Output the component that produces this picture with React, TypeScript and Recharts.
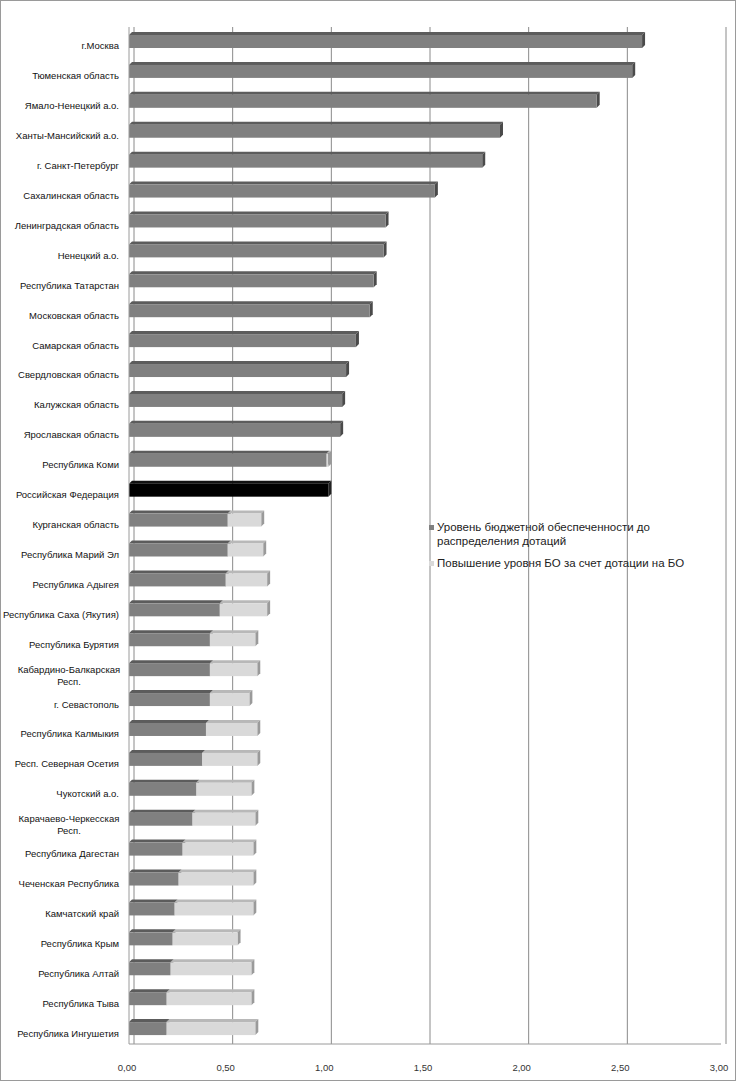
import { BarChart, Bar, XAxis, YAxis, CartesianGrid } from 'recharts'

// regions, top to bottom
const regions = [
  'г.Москва',
  'Тюменская область',
  'Ямало-Ненецкий а.о.',
  'Ханты-Мансийский а.о.',
  'г. Санкт-Петербург',
  'Сахалинская область',
  'Ленинградская область',
  'Ненецкий а.о.',
  'Республика Татарстан',
  'Московская область',
  'Самарская область',
  'Свердловская область',
  'Калужская область',
  'Ярославская область',
  'Республика Коми',
  'Российская Федерация',
  'Курганская область',
  'Республика Марий Эл',
  'Республика Адыгея',
  'Республика Саха (Якутия)',
  'Республика Бурятия',
  'Кабардино-Балкарская\nРесп.',
  'г. Севастополь',
  'Республика Калмыкия',
  'Респ. Северная Осетия',
  'Чукотский а.о.',
  'Карачаево-Черкесская\nРесп.',
  'Республика Дагестан',
  'Чеченская Республика',
  'Камчатский край',
  'Республика Крым',
  'Республика Алтай',
  'Республика Тыва',
  'Республика Ингушетия',
]

// level before grants
const baseLevel = [
  2.6, 2.55, 2.37, 1.88, 1.79, 1.55, 1.3, 1.29, 1.24, 1.22, 1.15, 1.1, 1.08, 1.07, 1.0, 1.01,
  0.5, 0.5, 0.49, 0.46, 0.41, 0.41, 0.41, 0.39, 0.37, 0.34, 0.32, 0.27, 0.25, 0.23, 0.22, 0.21,
  0.19, 0.19,
]

// increase from the grant
const grantIncrease = [
  0, 0, 0, 0, 0, 0, 0, 0, 0, 0, 0, 0, 0, 0, 0.01, 0,
  0.17, 0.18, 0.21, 0.24, 0.23, 0.24, 0.2, 0.26, 0.28, 0.28, 0.32, 0.36, 0.38, 0.4, 0.33, 0.41,
  0.43, 0.45,
]

const seriesNames = [
  'Уровень бюджетной обеспеченности до распределения дотаций',
  'Повышение уровня БО за счет дотации на БО',
]

const xTicks = [0, 0.5, 1, 1.5, 2, 2.5, 3]
const X_MAX = 3

const HIGHLIGHT = 'Российская Федерация'

// back wall of the 3d plot sits a few px right of the bars
const WALL_SHIFT = 5

const data = regions.map((name, i) => ({
  name,
  base: baseLevel[i],
  grant: grantIncrease[i],
}))

const palette: Record<string, { face: string; top: string; side: string }> = {
  dark: { face: '#808080', top: '#5c5c5c', side: '#4a4a4a' },
  light: { face: '#d9d9d9', top: '#b8b8b8', side: '#9a9a9a' },
  black: { face: '#000000', top: '#111111', side: '#222222' },
}

function wallLines(args: any): number[] {
  const o = args?.offset
  if (!o || typeof o.left !== 'number' || typeof o.width !== 'number') return []
  return xTicks.map((t) => o.left + (o.width * t) / X_MAX + WALL_SHIFT)
}

function makeBar3D(kind: 'dark' | 'light') {
  return (props: any) => {
    const { x, y, width, height, payload } = props
    if (!width || width <= 0) return <g />
    const c = kind === 'dark' && payload?.name === HIGHLIGHT ? palette.black : palette[kind]
    const d = 3
    return (
      <g>
        <path
          d={`M${x},${y} L${x + d},${y - d} L${x + width + d},${y - d} L${x + width},${y} Z`}
          fill={c.top}
        />
        <path
          d={`M${x + width},${y} L${x + width + d},${y - d} L${x + width + d},${y + height - d} L${x + width},${y + height} Z`}
          fill={c.side}
        />
        <rect x={x} y={y} width={width} height={height} fill={c.face} />
      </g>
    )
  }
}

function RegionTick(props: any) {
  const { x, y, payload } = props
  const lines = String(payload.value).split('\n')
  if (lines.length > 1) {
    return (
      <text
        x={x - 50}
        y={y + 5}
        textAnchor="middle"
        fontSize={9.5}
        fill="#111"
        fontFamily="'Liberation Sans', Arial, sans-serif"
      >
        <tspan x={x - 50} dy={-6} dominantBaseline="central">{lines[0]}</tspan>
        <tspan x={x - 50} dy={12} dominantBaseline="central">{lines[1]}</tspan>
      </text>
    )
  }
  return (
    <text
      x={x}
      y={y + 4}
      textAnchor="end"
      dominantBaseline="central"
      fontSize={9.5}
      fill="#111"
      fontFamily="'Liberation Sans', Arial, sans-serif"
    >
      {payload.value}
    </text>
  )
}

function ValueTick(props: any) {
  const { x, y, payload } = props
  return (
    <text
      x={x - 2}
      y={y + 15}
      textAnchor="middle"
      dominantBaseline="central"
      fontSize={9.5}
      fill="#333"
      fontFamily="'Liberation Sans', Arial, sans-serif"
    >
      {Number(payload.value).toFixed(2).replace('.', ',')}
    </text>
  )
}

export default function App() {
  return (
    <div
      style={{
        position: 'absolute',
        left: 0,
        top: 0,
        width: 736,
        height: 1081,
        boxSizing: 'border-box',
        border: '1px solid #9a9a9a',
        background: '#fff',
      }}
    >
      <BarChart
        width={734}
        height={1079}
        data={data}
        layout="vertical"
        margin={{ top: 26, right: 14, bottom: 6, left: 0 }}
        barSize={13}
      >
        <CartesianGrid
          vertical
          horizontal={false}
          stroke="#8a8a8a"
          verticalCoordinatesGenerator={wallLines}
        />
        <XAxis
          type="number"
          domain={[0, X_MAX]}
          ticks={xTicks}
          height={30}
          tick={<ValueTick />}
          tickLine={false}
          axisLine={{ stroke: '#9a9a9a' }}
        />
        <YAxis
          type="category"
          dataKey="name"
          width={128}
          tickSize={0}
          tickMargin={10}
          tick={<RegionTick />}
          interval={0}
          axisLine={{ stroke: '#9a9a9a' }}
        />
        <Bar
          dataKey="base"
          name={seriesNames[0]}
          stackId="a"
          isAnimationActive={false}
          shape={makeBar3D('dark')}
        />
        <Bar
          dataKey="grant"
          name={seriesNames[1]}
          stackId="a"
          isAnimationActive={false}
          shape={makeBar3D('light')}
        />
      </BarChart>
      <div
        style={{
          position: 'absolute',
          left: 428,
          top: 519,
          width: 280,
          fontFamily: "'Liberation Sans', Arial, sans-serif",
          fontSize: 11.5,
          lineHeight: '14px',
          color: '#222',
        }}
      >
        {seriesNames.map((s, i) => (
          <div key={s} style={{ display: 'flex', alignItems: 'flex-start', marginBottom: 8 }}>
            <span
              style={{
                display: 'inline-block',
                width: 5,
                height: 5,
                marginTop: 5,
                marginRight: 3,
                flex: 'none',
                background: i === 0 ? palette.dark.face : palette.light.face,
              }}
            />
            <span>{s}</span>
          </div>
        ))}
      </div>
    </div>
  )
}
